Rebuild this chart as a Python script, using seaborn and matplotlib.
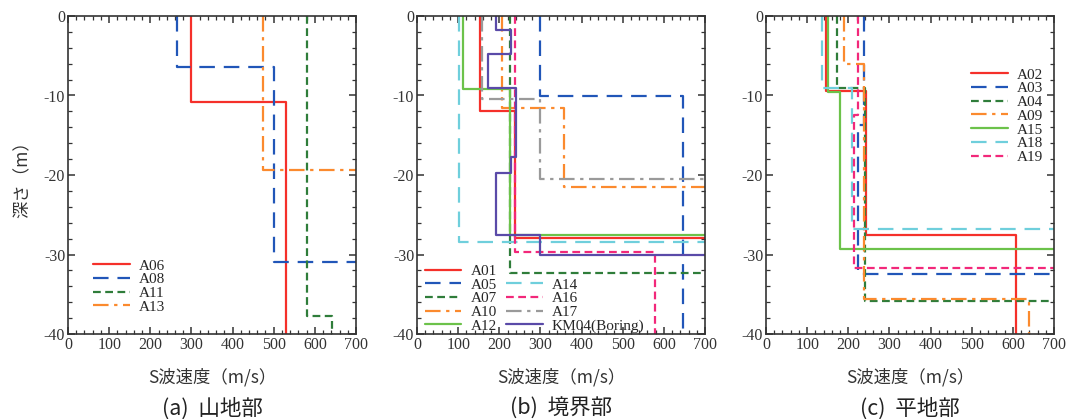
import numpy as np
import pandas as pd
import matplotlib
matplotlib.use('Agg')
import matplotlib.pyplot as plt
import seaborn as sns
from matplotlib.ticker import MultipleLocator
from matplotlib.lines import Line2D

# S-wave velocity profiles: layer velocities (m/s) and layer bottom depths (m)
# 750 = half-space velocity beyond the plotted range
a_names = ['A06', 'A08', 'A11', 'A13']
a_vs = [[300, 530], [265, 500, 750], [582, 642], [474, 750]]
a_bot = [[10.8, 40], [6.4, 31.0, 40], [37.7, 40], [19.4, 40]]

b_names = ['A01', 'A05', 'A07', 'A10', 'A12', 'A14', 'A16', 'A17', 'KM04(Boring)']
b_vs = [[152, 239, 750], [300, 646], [225, 750], [207, 357, 750], [113, 225, 750],
        [101, 750], [239, 578], [158, 300, 750],
        [192, 229, 172, 241, 229, 192, 300, 750]]
b_bot = [[12.0, 27.9, 40], [10.1, 40], [32.3, 40], [11.6, 21.5, 40], [9.2, 27.6, 40],
         [28.4, 40], [29.7, 40], [10.5, 20.5, 40],
         [1.8, 4.8, 9.1, 17.7, 19.8, 27.5, 30.1, 40]]

c_names = ['A02', 'A03', 'A04', 'A09', 'A15', 'A18', 'A19']
c_vs = [[147, 243, 608], [237, 224, 750], [173, 241, 750], [190, 238, 640],
        [150, 180, 750], [137, 208, 750], [223, 214, 750]]
c_bot = [[9.4, 27.5, 40], [13.7, 32.5, 40], [9.0, 35.8, 40], [6.0, 35.6, 40],
         [9.6, 29.3, 40], [9.0, 26.8, 40], [12.5, 31.7, 40]]

captions = ['(a)  山地部', '(b)  境界部', '(c)  平地部']

RED = '#f5302a'
BLUE = '#2156b8'
DGREEN = '#2f7d3a'
ORANGE = '#fb8a2e'
LGREEN = '#6cc24a'
CYAN = '#6fcfdc'
PINK = '#f2287a'
GRAY = '#9a9a9a'
PURPLE = '#5a4aa8'

SOLID = None
LDASH = [7, 4]
SDASH = [3.5, 2]
DDOT = [7, 2.5, 1.5, 2.5]

style = {
    'A06': (RED, SOLID), 'A08': (BLUE, LDASH), 'A11': (DGREEN, SDASH), 'A13': (ORANGE, DDOT),
    'A01': (RED, SOLID), 'A05': (BLUE, LDASH), 'A07': (DGREEN, SDASH), 'A10': (ORANGE, DDOT),
    'A12': (LGREEN, SOLID), 'A14': (CYAN, LDASH), 'A16': (PINK, SDASH), 'A17': (GRAY, DDOT),
    'KM04(Boring)': (PURPLE, SOLID),
    'A02': (RED, SOLID), 'A03': (BLUE, LDASH), 'A04': (DGREEN, SDASH), 'A09': (ORANGE, DDOT),
    'A15': (LGREEN, SOLID), 'A18': (CYAN, LDASH), 'A19': (PINK, SDASH),
}


def step_profile(vs, bottoms):
    xs, ys = [], []
    top = 0
    for v, b in zip(vs, bottoms):
        xs += [v, v]
        ys += [-top, -b]
        top = b
    return pd.DataFrame({'vs': xs, 'depth': ys})


sns.set_style('ticks')
plt.rcParams['font.family'] = ['Liberation Serif', 'Noto Sans CJK JP']
plt.rcParams['axes.unicode_minus'] = False
plt.rcParams['xtick.direction'] = 'in'
plt.rcParams['ytick.direction'] = 'in'
plt.rcParams['axes.edgecolor'] = '#333333'
plt.rcParams['xtick.color'] = '#333333'
plt.rcParams['ytick.color'] = '#333333'

JP = ['Noto Sans CJK JP', 'DejaVu Sans']

fig = plt.figure(figsize=(10.72, 4.19), dpi=100)
lefts = [68, 417, 766]
panels = [(a_names, a_vs, a_bot), (b_names, b_vs, b_bot), (c_names, c_vs, c_bot)]
axes = []
for i, (names, vss, bots) in enumerate(panels):
    ax = fig.add_axes([lefts[i] / 1072, 1 - 334 / 419, 288 / 1072, 318 / 419])
    axes.append(ax)
    handles = []
    for n, v, b in zip(names, vss, bots):
        df = step_profile(v, b)
        color, dash = style[n]
        sns.lineplot(data=df, x='vs', y='depth', sort=False, estimator=None,
                     color=color, lw=1.6, ax=ax)
        h = Line2D([], [], color=color, lw=1.6)
        if dash is not None:
            ax.lines[-1].set_dashes(dash)
            h.set_dashes(dash)
        handles.append(h)
    ax.set_xlim(0, 700)
    ax.set_ylim(-40, 0)
    ax.xaxis.set_major_locator(MultipleLocator(100))
    ax.xaxis.set_minor_locator(MultipleLocator(20))
    ax.yaxis.set_major_locator(MultipleLocator(10))
    ax.yaxis.set_minor_locator(MultipleLocator(2))
    ax.tick_params(which='both', top=True, right=True, labelsize=11.5, pad=2)
    ax.tick_params(which='major', length=5, width=1.1)
    ax.tick_params(which='minor', length=3, width=0.9)
    for s in ax.spines.values():
        s.set_linewidth(1.2)
    ax.set_xlabel('')
    ax.set_ylabel('')
    ax.text(0.5, -0.135, 'S波速度（m/s）', transform=ax.transAxes, ha='center', va='center',
            fontsize=12.5, family=JP, color='#333333')
    ax.text(0.5, -0.235, captions[i], transform=ax.transAxes, ha='center', va='center',
            fontsize=15.5, family=JP, color='#222222')

    leg_kw = dict(frameon=False, fontsize=11, handlelength=2.4, labelspacing=0.0,
                  handletextpad=0.6, borderpad=0.2)
    if i == 0:
        ax.legend(handles, names, loc='lower left', bbox_to_anchor=(0.05, 0.03), **leg_kw)
    elif i == 1:
        blank = Line2D([], [], color='none')
        hh = handles[:5] + [blank] + handles[5:]
        ll = names[:5] + [''] + names[5:]
        ax.legend(hh, ll, loc='lower left', ncol=2, columnspacing=0.6,
                  bbox_to_anchor=(-0.01, -0.03), **leg_kw)
    else:
        ax.legend(handles, names, loc='upper right', bbox_to_anchor=(1.0, 0.87), **leg_kw)

axes[0].set_ylabel('深さ（m）', fontsize=12.5, family=JP, color='#333333', labelpad=9)

fig.savefig('out.png', dpi=100)
